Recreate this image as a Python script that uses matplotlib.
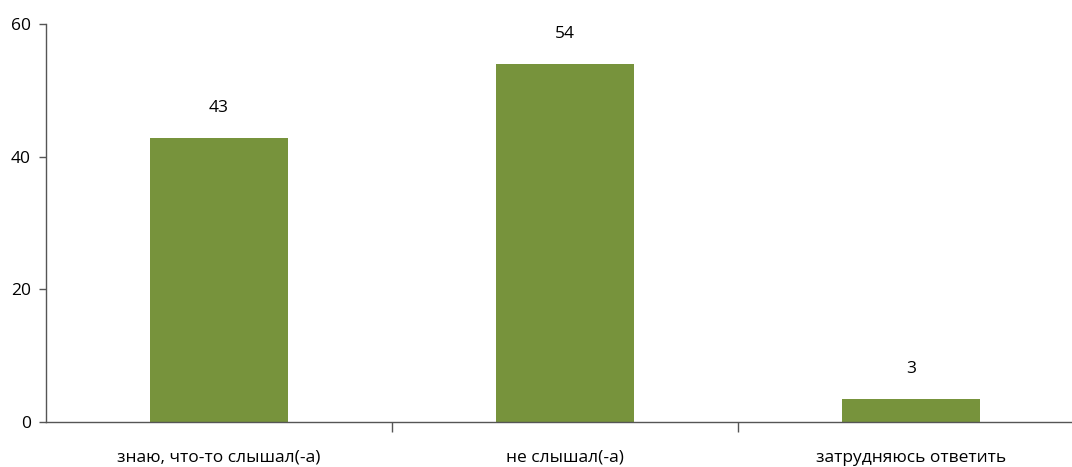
import matplotlib
matplotlib.use("Agg")
import matplotlib.pyplot as plt

categories = ["знаю, что-то слышал(-а)", "не слышал(-а)", "затрудняюсь ответить"]
values = [42.8, 53.9, 3.4]
labels = ["43", "54", "3"]
yticks = [0, 20, 40, 60]

plt.rcParams['font.family'] = ['Open Sans', 'DejaVu Sans']

W, H = 1072, 467
fig = plt.figure(figsize=(W/100, H/100), dpi=100)
left, right = 46, 1084
bottom, top = 422, 24
ax = fig.add_axes([left/W, 1 - bottom/H, (right-left)/W, (bottom-top)/H])

x = list(range(len(categories)))
ax.bar(x, values, width=0.40, color="#77933C", zorder=2)
for xi, v, l in zip(x, values, labels):
    ax.annotate(l, (xi, v), xytext=(0, 16), textcoords="offset points",
                ha="center", va="bottom", fontsize=12.5, color="black")

ax.set_xlim(-0.5, 2.5)
ax.set_ylim(0, 60)
ax.set_yticks(yticks)
ax.set_yticklabels([str(t) for t in yticks], fontsize=12.5)
ax.set_xticks([0.5, 1.5])
ax.set_xticklabels([])
ax.tick_params(axis='x', direction='out', length=7, width=1, color="#555555")
ax.tick_params(axis='y', direction='out', length=5, width=1, color="#555555", pad=6)
for xi, c in zip(x, categories):
    ax.text(xi, -0.07, c, transform=ax.get_xaxis_transform(), ha="center", va="top", fontsize=12.5)

for s in ["top", "right"]:
    ax.spines[s].set_visible(False)
for s in ["left", "bottom"]:
    ax.spines[s].set_color("#555555")
    ax.spines[s].set_linewidth(1)

fig.savefig("out.png", dpi=100)
